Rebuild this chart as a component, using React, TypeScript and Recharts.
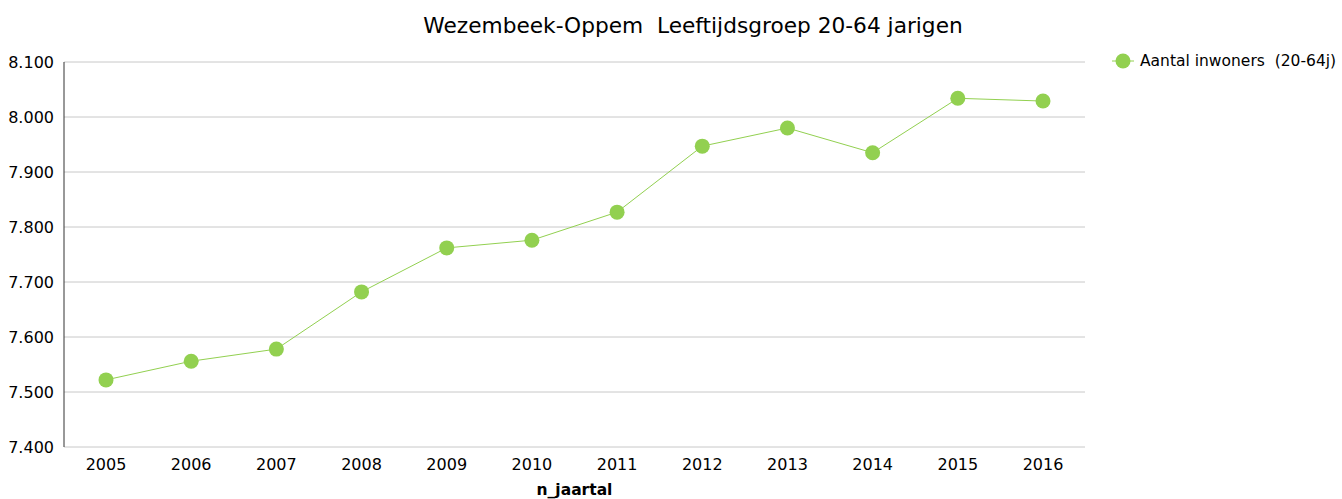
import { LineChart, Line, XAxis, YAxis, CartesianGrid } from "recharts";

const years = ["2005", "2006", "2007", "2008", "2009", "2010", "2011", "2012", "2013", "2014", "2015", "2016"];
const inwoners = [7522, 7556, 7578, 7682, 7762, 7776, 7827, 7947, 7980, 7935, 8034, 8029];
const yTicks = [7400, 7500, 7600, 7700, 7800, 7900, 8000, 8100];

const data = years.map((y, i) => ({ jaar: y, value: inwoners[i] }));

const green = "#92d050";
const font = "Tahoma, 'DejaVu Sans', sans-serif";

function LegendBox() {
  return (
    <div style={{ position: "absolute", left: 1112, top: 52, display: "flex", alignItems: "center", fontFamily: font, fontSize: 15.5, color: "#000" }}>
      <svg width={22} height={18}>
        <line x1={0} y1={9} x2={22} y2={9} stroke={green} strokeWidth={1} />
        <circle cx={11} cy={9} r={7.5} fill={green} />
      </svg>
      <span style={{ marginLeft: 6, whiteSpace: "pre" }}>Aantal inwoners  (20-64j)</span>
    </div>
  );
}

export default function App() {
  return (
    <div style={{ position: "absolute", left: 0, top: 0, width: 1342, height: 499, background: "#fff" }}>
      <div style={{ position: "absolute", top: 13, left: 0, width: 1386, textAlign: "center", fontFamily: font, fontSize: 21.7, color: "#000", whiteSpace: "pre" }}>
        Wezembeek-Oppem  Leeftijdsgroep 20-64 jarigen
      </div>
      <LegendBox />
      <LineChart width={1342} height={499} data={data} margin={{ top: 62, right: 257, bottom: 0, left: 0 }}>
        <CartesianGrid vertical={false} stroke="#c8c8c8" />
        <XAxis
          dataKey="jaar"
          padding={{ left: 42, right: 42 }}
          axisLine={false}
          tickLine={false}
          height={52}
          tick={{ fontFamily: font, fontSize: 16, fill: "#000" }}
          tickMargin={6}
          label={{ value: "n_jaartal", position: "insideBottom", offset: 4, fontFamily: font, fontSize: 15.5, fontWeight: "bold", fill: "#000" }}
        />
        <YAxis
          width={64}
          domain={[7400, 8100]}
          ticks={yTicks}
          interval={0}
          tickFormatter={(v: number) => (v / 1000).toFixed(3)}
          axisLine={{ stroke: "#333" }}
          tickLine={false}
          tick={{ fontFamily: font, fontSize: 16, fill: "#000" }}
          tickMargin={4}
        />
        <Line
          dataKey="value"
          stroke={green}
          strokeWidth={1}
          dot={{ r: 7.5, fill: green, stroke: "none" }}
          isAnimationActive={false}
        />
      </LineChart>
    </div>
  );
}
